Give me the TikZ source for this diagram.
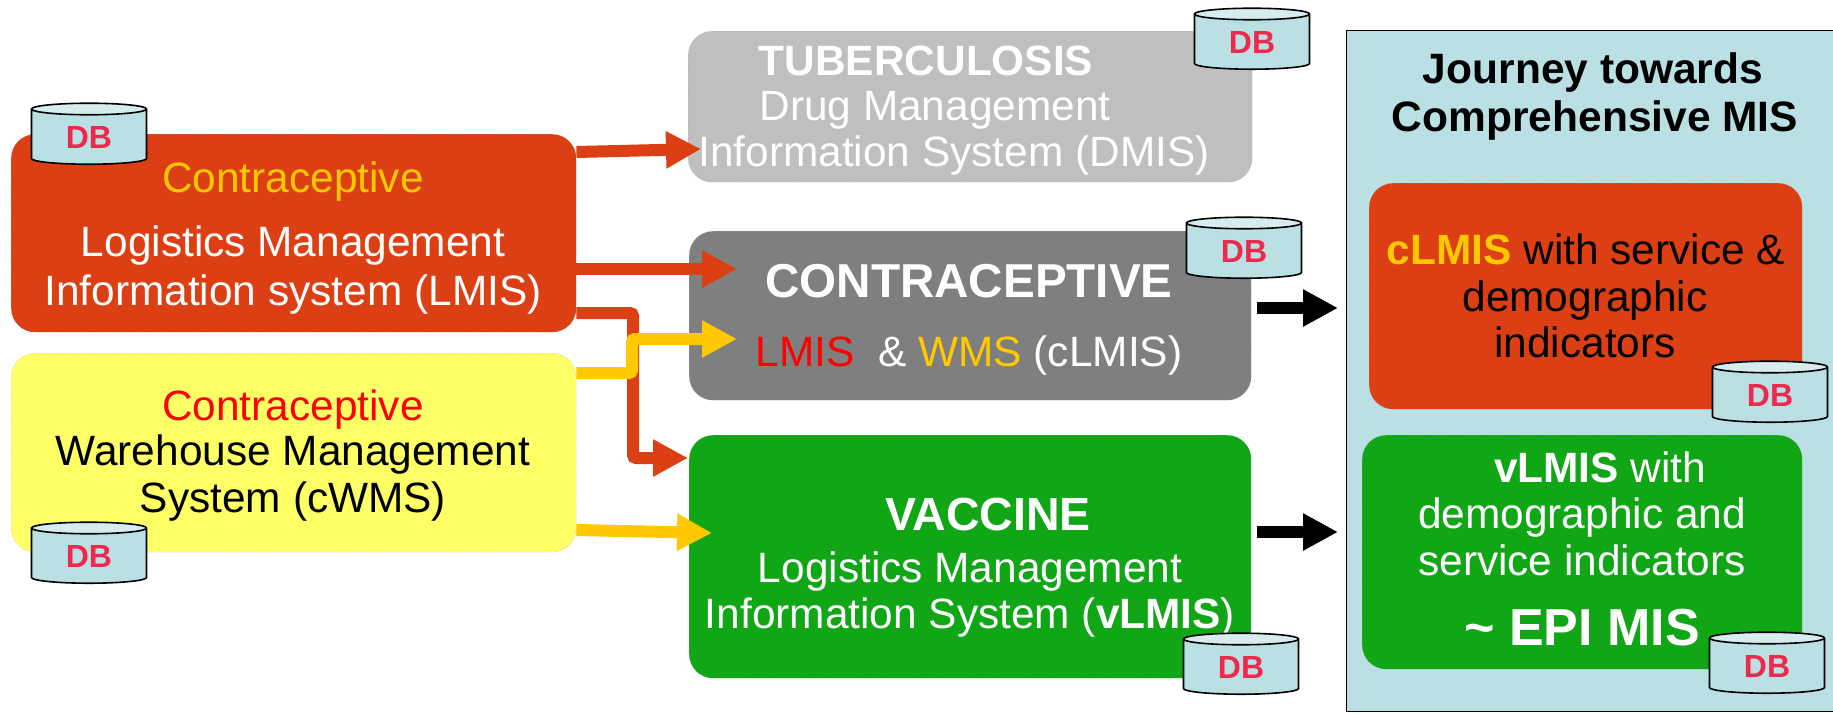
\documentclass[tikz,border=0pt]{standalone}
\usepackage{fontspec}
\setmainfont{Liberation Sans}
\usetikzlibrary{arrows.meta,shapes.geometric,calc}
\definecolor{cRed}{HTML}{DB3F13}
\definecolor{cYel}{HTML}{FFFF66}
\definecolor{cGrayL}{HTML}{BFBFBF}
\definecolor{cGrayD}{HTML}{7F7F7F}
\definecolor{cGreen}{HTML}{10A616}
\definecolor{cPanel}{HTML}{BAE0E3}
\definecolor{cTop}{HTML}{D6ECEF}
\definecolor{cGold}{HTML}{FFC800}
\definecolor{cDB}{HTML}{EC2A4E}
\tikzset{
  box/.style={rounded corners=24pt,inner sep=0,anchor=north west,draw=black!35,line width=.4pt,densely dotted},
  dbnode/.style={cylinder,shape border rotate=90,shape aspect=.25,draw=black,line width=1.6pt,
    cylinder uses custom fill,cylinder body fill=cPanel,cylinder end fill=cTop,
    minimum width=115pt,minimum height=61pt,inner sep=0,text=cDB,font=\fontsize{32}{32}\selectfont\bfseries},
  lbl/.style={inner sep=0,text height=38pt,text depth=8.3pt,font=\fontsize{42.4}{48}\selectfont},
  conn/.style={line width=12pt,-{Triangle[length=35pt,width=35pt]},rounded corners=3pt},
}
\newcommand{\boxat}[6]{\node[box,fill=#6,minimum width=#4pt-#2pt,minimum height=#5pt-#3pt] (#1) at (#2,#3) {};}
\newcommand{\dbtext}{\raisebox{-3pt}{DB}}
\begin{document}
\begin{tikzpicture}[x=1pt,y=-1pt]
\useasboundingbox (0,0) rectangle (1833,713);
% panel
\begin{scope}
\clip (0,0) rectangle (1833,713);
\node[anchor=north west,inner sep=0,draw=black,line width=1.4pt,fill=cPanel,minimum width=490pt,minimum height=681pt] (panel) at (1346,30) {};
\end{scope}
% boxes
\boxat{lmis}{11}{134}{576}{332}{cRed}
\boxat{wms}{11}{353}{576}{552}{cYel}
\boxat{tb}{688}{31}{1252}{182}{cGrayL}
\boxat{contra}{689}{231}{1251}{400}{cGrayD}
\boxat{vacc}{689}{435}{1251}{678}{cGreen}
\boxat{rred}{1369}{183}{1802}{409}{cRed}
\boxat{rgreen}{1362}{435}{1802}{669}{cGreen}
% connector targets
\coordinate (t1) at (701,149);
\coordinate (t2) at (737,269);
\coordinate (t3) at (688,458);
\coordinate (t4) at (737,339);
\coordinate (t5) at (712,533);
\coordinate (t6) at (1338,308);
\coordinate (t7) at (1338,532);
\coordinate (s6) at (1257,308);
\coordinate (s7) at (1257,532);
% connectors
\draw[conn,draw=cRed] (lmis.east |- 0,152) -- (t1);
\draw[conn,draw=cRed] (lmis.east |- t2) -- (t2);
\draw[conn,draw=cRed] (lmis.east |- 0,313) -- (633,313) -- (633,458) -- (t3);
\draw[conn,draw=cGold] (wms.east |- 0,373) -- (632,373) -- (632,339) -- (t4);
\draw[conn,draw=cGold] (wms.east |- 0,530) -- (t5);
\draw[conn,draw=black] (s6) -- (t6);
\draw[conn,draw=black] (s7) -- (t7);
% LMIS text
\node[lbl,text=cGold] (a1) at (293,178) {Contraceptive};
\node[lbl,text=white] (a2) at (293,242) {Logistics Management};
\node[lbl,text=white] (a3) at (293,291) {Information system (LMIS)};
% WMS text
\node[lbl,text=red] (b1) at (293,406) {Contraceptive};
\node[lbl] (b2) at (293,451) {Warehouse Management};
\node[lbl] (b3) at (293,498) {System (cWMS)};
% TB text
\node[lbl,text=white,font=\fontsize{42.4}{48}\selectfont\bfseries] (c1) at (926,61) {TUBERCULOSIS};
\node[lbl,text=white] (c2) at (935,106) {Drug Management};
\node[lbl,text=white] (c3) at (954,152) {Information System (DMIS)};
% contraceptive text
\node[lbl,text=white,font=\fontsize{47.6}{48}\selectfont\bfseries] (d1) at (969,283) {CONTRACEPTIVE};
\node[lbl,text=white] (d2) at (969,352) {\textcolor{red}{LMIS}\ \ \& \textcolor{cGold}{WMS} (cLMIS)};
% vaccine text
\node[lbl,text=white,font=\fontsize{46.5}{48}\selectfont\bfseries] (e1) at (988,516) {VACCINE};
\node[lbl,text=white] (e2) at (970,568) {Logistics Management};
\node[lbl,text=white] (e3) at (970,614) {Information System (\textbf{vLMIS})};
% panel text
\node[lbl,font=\fontsize{42.5}{48}\selectfont\bfseries] (f1) at (1593,69) {Journey towards};
\node[lbl,font=\fontsize{42.5}{48}\selectfont\bfseries] (f2) at (1595,117) {Comprehensive MIS};
\node[lbl] (g1) at (1586,250) {\textcolor{cGold}{\textbf{cLMIS}} with service \&};
\node[lbl] (g2) at (1585,297) {demographic};
\node[lbl] (g3) at (1585,343) {indicators};
\node[lbl,text=white] (h1) at (1600,468) {\textbf{vLMIS} with};
\node[lbl,text=white] (h2) at (1582,514) {demographic and};
\node[lbl,text=white] (h3) at (1582,561) {service indicators};
\node[lbl,text=white,font=\fontsize{52}{56}\selectfont\bfseries] (h4) at (1582,631) {\textasciitilde\ EPI MIS};
% databases
\node[dbnode] (db1) at (89,137) {\dbtext};
\node[dbnode] (db2) at (89,556) {\dbtext};
\node[dbnode] (db3) at (1252,42) {\dbtext};
\node[dbnode] (db4) at (1244,251) {\dbtext};
\node[dbnode] (db5) at (1241,667) {\dbtext};
\node[dbnode] (db6) at (1770,395) {\dbtext};
\node[dbnode] (db7) at (1767,666) {\dbtext};
\end{tikzpicture}
\end{document}
